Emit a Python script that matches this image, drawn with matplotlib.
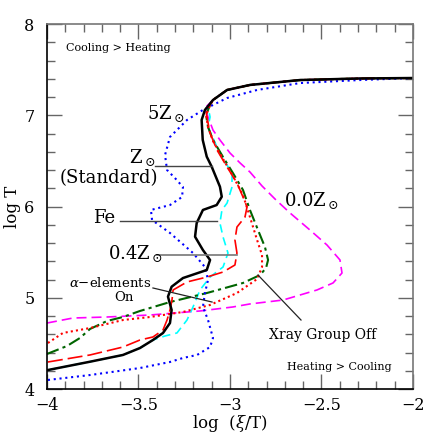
import numpy as np
import matplotlib
matplotlib.use("Agg")
import matplotlib.pyplot as plt

plt.rcParams['mathtext.fontset'] = 'dejavuserif'

# shared high-temperature branch (log xi/T, log T)
top_x = [-3.093, -3.016, -2.891, -2.617, -2.290, -2.0]
top_y = [7.167, 7.277, 7.332, 7.386, 7.403, 7.408]

# Z_sun (Standard) - black solid
std_x = [-3.995, -3.765, -3.585, -3.492, -3.421, -3.366, -3.328, -3.319, -3.339, -3.319,
         -3.257, -3.127, -3.109, -3.148, -3.191, -3.182, -3.148, -3.073, -3.045, -3.055,
         -3.100, -3.127, -3.149, -3.155, -3.137]
std_y = [4.208, 4.299, 4.373, 4.449, 4.537, 4.614, 4.723, 4.866, 5.012, 5.121,
         5.216, 5.304, 5.414, 5.523, 5.669, 5.819, 5.962, 6.016, 6.107, 6.217,
         6.436, 6.546, 6.729, 6.948, 7.058]

# 5 Z_sun - blue dotted
z5_x = [-3.995, -3.765, -3.492, -3.328, -3.257, -3.180, -3.109, -3.093, -3.120, -3.148,
        -3.137, -3.120, -3.137, -3.202, -3.328, -3.426, -3.432, -3.328, -3.262, -3.257,
        -3.301, -3.344, -3.355, -3.328, -3.235, -3.148, -3.016, -2.852, -2.617, -2.290, -2.0]
z5_y = [4.099, 4.153, 4.230, 4.296, 4.340, 4.373, 4.460, 4.559, 4.756, 4.899,
        5.052, 5.195, 5.337, 5.490, 5.710, 5.852, 5.962, 6.016, 6.104, 6.214,
        6.312, 6.400, 6.564, 6.762, 6.948, 7.058, 7.189, 7.277, 7.353, 7.386, 7.408]

# Fe - cyan dashed
fe_x = [-3.995, -3.765, -3.585, -3.492, -3.421, -3.355, -3.290, -3.235, -3.202, -3.164,
        -3.109, -3.038, -3.011, -3.038, -3.055, -3.044, -3.016, -2.989, -2.989, -3.027,
        -3.071, -3.120, -3.109, -3.120]
fe_y = [4.208, 4.299, 4.373, 4.449, 4.537, 4.581, 4.614, 4.756, 4.899, 5.085,
        5.227, 5.337, 5.490, 5.666, 5.819, 5.962, 6.038, 6.214, 6.367, 6.488,
        6.652, 6.871, 6.981, 7.090]

# 0.4 Z_sun - red long dashed
z04_x = [-3.995, -3.765, -3.585, -3.492, -3.421, -3.366, -3.344, -3.328, -3.317, -3.311,
         -3.235, -3.126, -3.038, -2.973, -2.962, -2.973, -2.962, -2.918, -2.907, -2.929,
         -2.962, -3.016, -3.071, -3.109, -3.120, -3.131]
z04_y = [4.296, 4.373, 4.460, 4.537, 4.570, 4.647, 4.756, 4.866, 4.975, 5.085,
         5.173, 5.227, 5.282, 5.359, 5.490, 5.633, 5.775, 5.885, 5.995, 6.104,
         6.258, 6.433, 6.619, 6.805, 6.915, 7.040]

# 0.0 Z_sun - magenta dash
z00_x = [-4.0, -3.858, -3.672, -3.437, -3.164, -2.984, -2.891, -2.710, -2.525, -2.437,
         -2.388, -2.399, -2.470, -2.563, -2.672, -2.754, -2.825, -2.891, -2.945, -3.000,
         -3.055, -3.093, -3.120, -3.137]
z00_y = [4.723, 4.778, 4.789, 4.811, 4.855, 4.899, 4.932, 4.975, 5.085, 5.162,
         5.271, 5.414, 5.578, 5.742, 5.929, 6.082, 6.225, 6.378, 6.477, 6.586,
         6.729, 6.838, 6.981, 7.079]

# alpha-elements on - green dash-dot
alp_x = [-4.0, -3.891, -3.820, -3.765, -3.672, -3.585, -3.492, -3.328, -3.126, -2.929,
         -2.836, -2.803, -2.792, -2.809, -2.847, -2.891, -2.929, -2.984, -3.038, -3.093,
         -3.120, -3.131, -3.109]
alp_y = [4.384, 4.471, 4.559, 4.658, 4.745, 4.789, 4.855, 4.953, 5.052, 5.162,
         5.249, 5.326, 5.414, 5.556, 5.742, 5.962, 6.181, 6.367, 6.542, 6.729,
         6.871, 7.003, 7.112]

# Xray group off - red dotted
xr_x = [-3.995, -3.913, -3.765, -3.585, -3.437, -3.257, -3.109, -2.962, -2.852, -2.825,
        -2.825, -2.852, -2.891, -2.929, -2.984, -3.038, -3.093, -3.120, -3.131, -3.109]
xr_y = [4.504, 4.614, 4.668, 4.756, 4.789, 4.844, 4.921, 5.052, 5.205, 5.337,
        5.468, 5.633, 5.885, 6.126, 6.334, 6.521, 6.718, 6.871, 7.003, 7.112]


def full(x, y):
    return list(x) + top_x, list(y) + top_y


fig = plt.figure(figsize=(4.36, 4.36), dpi=100)
ax = fig.add_axes([47 / 436, 1 - 389 / 436, 366 / 436, 365 / 436])

lw = 1.2
x, y = full(z00_x, z00_y)
ax.plot(x, y, color='#ff00ff', lw=lw, dashes=(6, 3))
x, y = full(fe_x, fe_y)
ax.plot(x, y, color='#00ffff', lw=lw, dashes=(5, 3))
x, y = full(alp_x, alp_y)
ax.plot(x, y, color='#006400', lw=1.5, dashes=(6, 2, 1.5, 2))
x, y = full(xr_x, xr_y)
ax.plot(x, y, color='#ff0000', lw=1.5, dashes=(1, 1.5))
x, y = full(z04_x, z04_y)
ax.plot(x, y, color='#ff0000', lw=lw, dashes=(9, 3))
ax.plot(z5_x, z5_y, color='#0000ff', lw=1.5, dashes=(1, 1.8))
x, y = full(std_x, std_y)
ax.plot(x, y, color='black', lw=1.8)

ax.set_xlim(-4, -2)
ax.set_ylim(4, 8)
ax.set_xticks([-4, -3.5, -3, -2.5, -2])
ax.set_xticklabels(['\u22124', '\u22123.5', '\u22123', '\u22122.5', '\u22122'])
ax.set_yticks([4, 5, 6, 7, 8])
ax.set_xticks(np.arange(-4, -1.99, 0.1), minor=True)
ax.set_yticks(np.arange(4, 8.01, 0.2), minor=True)
ax.tick_params(which='both', direction='in', top=True, right=True, colors='#666666',
               labelcolor='black', labelsize=11.5)
ax.tick_params(which='major', length=11, width=1)
ax.tick_params(which='minor', length=5.5, width=1)
ax.tick_params(axis='x', which='major', pad=6)
ax.tick_params(axis='y', which='major', pad=9)
for lab in ax.get_xticklabels() + ax.get_yticklabels():
    lab.set_family('DejaVu Serif')
ax.spines['left'].set_color('black')
ax.spines['bottom'].set_color('black')
ax.spines['top'].set_color('#777777')
ax.spines['right'].set_color('#777777')
for s in ax.spines.values():
    s.set_linewidth(1.2)

serif = 'DejaVu Serif'
ax.set_xlabel(r'log  ($\xi$/T)', fontsize=12, family=serif, labelpad=-1)
ax.set_ylabel('log T', fontsize=12, family=serif, labelpad=2)

ax.text(-3.896, 7.737, 'Cooling > Heating', fontsize=8, family=serif, va='center', ha='left')
ax.text(-2.404, 4.241, 'Heating > Cooling', fontsize=8, family=serif, va='center', ha='center')
ax.text(-3.35, 7.02, r'5Z$_\odot$', fontsize=13, family=serif, va='center', ha='center')
ax.text(-3.48, 6.54, r'Z$_\odot$', fontsize=13, family=serif, va='center', ha='center')
ax.text(-3.661, 6.31, '(Standard)', fontsize=13, family=serif, va='center', ha='center')
ax.plot([-3.41, -3.098], [6.44, 6.44], color='#444444', lw=1)
ax.text(-3.689, 5.874, 'Fe', fontsize=13, family=serif, va='center', ha='center')
ax.plot([-3.60, -3.071], [5.84, 5.84], color='#444444', lw=1)
ax.text(-3.514, 5.49, r'0.4Z$_\odot$', fontsize=13, family=serif, va='center', ha='center')
ax.plot([-3.399, -2.962], [5.47, 5.47], color='#777777', lw=1.2)
ax.text(-3.656, 5.165, '$\\alpha$\u2212elements', fontsize=9.5,
        family=serif, va='center', ha='center')
ax.text(-3.58, 5.0, 'On', fontsize=9.5, family=serif, va='center', ha='center')
ax.plot([-3.421, -3.098], [5.107, 4.953], color='#222222', lw=0.9)
ax.text(-2.557, 6.07, r'0.0Z$_\odot$', fontsize=13, family=serif, va='center', ha='center')
ax.text(-2.492, 4.592, 'Xray Group Off', fontsize=10, family=serif, va='center', ha='center')
ax.plot([-2.847, -2.612], [5.249, 4.756], color='#222222', lw=0.9)

fig.savefig('out.png', dpi=100)
